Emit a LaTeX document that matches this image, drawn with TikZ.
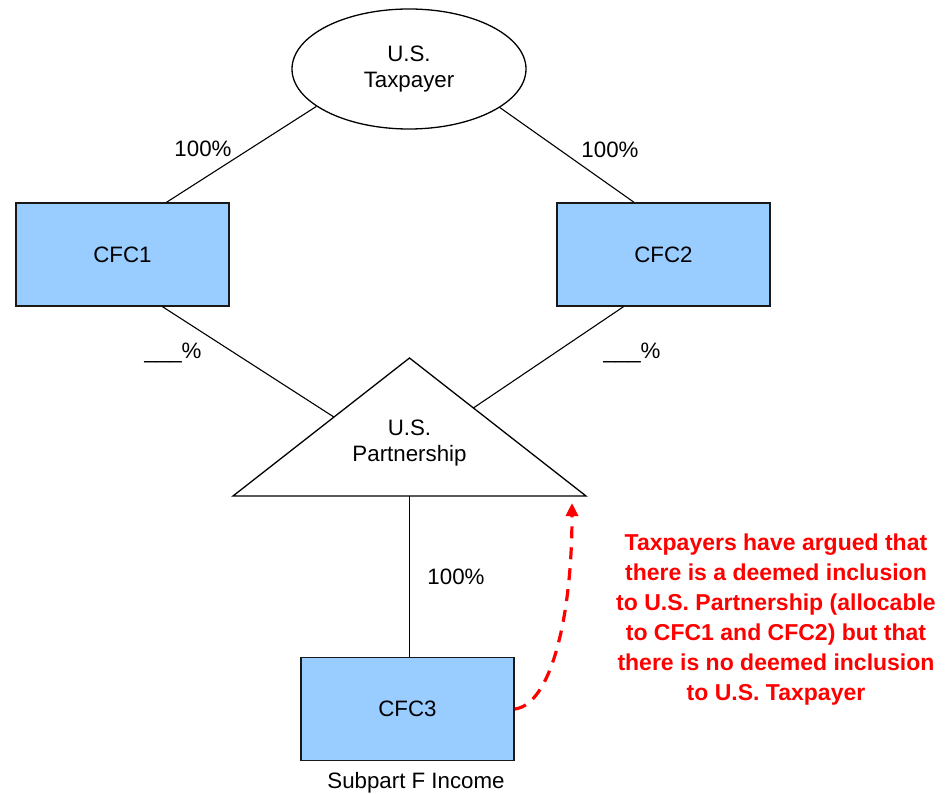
\documentclass[tikz,border=0pt]{standalone}
\usepackage{fontspec}
\setmainfont{Liberation Sans}
\usetikzlibrary{shapes.geometric,calc,arrows.meta}
\definecolor{boxblue}{HTML}{99CCFF}
\definecolor{annred}{HTML}{FF0000}
\begin{document}
\begin{tikzpicture}[x=1pt,y=-1pt,
  lbl/.style={font=\fontsize{22.3}{26.5}\selectfont,inner sep=0pt,align=center},
  box/.style={lbl,draw=black!90,line width=1.4pt,fill=boxblue,minimum width=213pt,minimum height=103pt},
  link/.style={line width=1.1pt},
  claim/.style={draw=annred,line width=3.2pt,dash pattern=on 12pt off 9pt,-{Triangle[length=13pt,width=12pt]}},
]
\useasboundingbox (0,0) rectangle (950,794);
% nodes
\node[lbl,ellipse,draw,line width=1.3pt,minimum width=234pt,minimum height=120pt] (tp) at (409,69) {U.S.\\Taxpayer};
\node[box] (cfc1) at (122.5,254.5) {CFC1};
\node[box] (cfc2) at (663.5,254.5) {CFC2};
\node[box] (cfc3) at (407.5,709) {CFC3};
% partnership triangle
\coordinate (ta) at (409.5,358);
\coordinate (tl) at (233,496);
\coordinate (tr) at (586,496);
\coordinate (tb) at ($(tl)!0.5!(tr)$);
\draw[line width=1.3pt,line join=miter] (ta) -- (tl) -- (tr) -- cycle;
\node[lbl] (tpn) at (409.5,443) {U.S.\\Partnership};
% connectors
\draw[link] (tp.202) -- ([xshift=44pt]cfc1.north);
\draw[link] (tp.337) -- ([xshift=-29.5pt]cfc2.north);
\draw[link] ([xshift=40pt]cfc1.south) -- ($(tl)!0.572!(ta)$);
\draw[link] ([xshift=-40pt]cfc2.south) -- ($(tr)!0.638!(ta)$);
\draw[link] (tb) -- (tb |- cfc3.north);
% labels
\node[lbl] (p1) at (203,149) {100\%};
\node[lbl] (p2) at (610,150) {100\%};
\node[lbl] (p3) at (173,353) {\_\_\_\%};
\node[lbl] (p4) at (632,353) {\_\_\_\%};
\node[lbl] (p5) at (456,577) {100\%};
\node[lbl] (sub) at (416,783) {Subpart F Income};
% annotation
\coordinate (tip) at (572,503);
\draw[claim] (cfc3.east) .. controls (550,705) and (572,620) .. (tip);
\node[inner sep=0pt,align=center,text=annred,font=\bfseries\fontsize{23}{30}\selectfont] (note) at (776,620)
  {Taxpayers have argued that\\there is a deemed inclusion\\to U.S. Partnership (allocable\\to CFC1 and CFC2) but that\\there is no deemed inclusion\\to U.S. Taxpayer};
\end{tikzpicture}
\end{document}
